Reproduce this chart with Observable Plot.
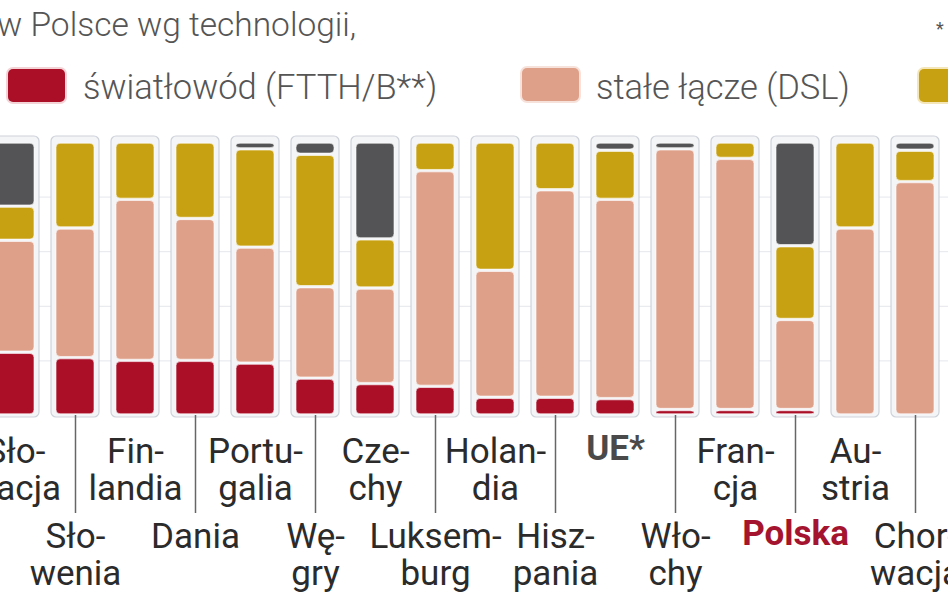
<!DOCTYPE html>
<html>
<head>
<meta charset="utf-8">
<script src="https://cdn.jsdelivr.net/npm/d3@7"></script>
<script src="https://cdn.jsdelivr.net/npm/@observablehq/plot@0.6"></script>
<style>
  html, body { margin: 0; padding: 0; background: #fff; width: 948px; height: 593px; overflow: hidden; font-family: Roboto, "Noto Sans", sans-serif; }
  #header { position: relative; height: 120px; }
  .title { position: absolute; left: -3px; top: 8px; font-size: 33.5px; line-height: 33.5px; color: #555; font-weight: 300; white-space: nowrap; }
  .sw { position: absolute; width: 57px; height: 33px; border-radius: 5px; }
  .lt { position: absolute; font-size: 34.5px; line-height: 35px; color: #555; font-weight: 300; white-space: nowrap; }
  .star { position: absolute; left: 936px; top: 18px; font-size: 18px; color: #555; }
  #chart { width: 948px; overflow: hidden; }
  #chart svg { margin-left: -18px; display: block; max-width: none !important; height: 473px !important; }
</style>
</head>
<body>
<div id="header">
  <div class="title">w Polsce wg technologii,</div>
  <div class="sw" style="left:8px;top:69px;background:#ab0e27;box-shadow:0 0 0 2px #f4d3d6;"></div>
  <div class="lt" style="left:83px;top:70px;">światłowód (FTTH/B**)</div>
  <div class="sw" style="left:522px;top:68px;background:#dfa08a;box-shadow:0 0 0 2px #f6e2da;"></div>
  <div class="lt" style="left:596px;top:70px;">stałe łącze (DSL)</div>
  <div class="sw" style="left:919px;top:69px;background:#c8a112;box-shadow:0 0 0 2px #f4e6b8;"></div>
  <div class="star">*</div>
</div>
<div id="chart"></div>
<script>
// ---- data (shares in %) ----
const countries = ["Słowacja","Słowenia","Finlandia","Dania","Portugalia","Węgry","Czechy","Luksemburg","Holandia","Hiszpania","UE*","Włochy","Francja","Polska","Austria","Chorwacja"];
const labels    = ["Sło-\nwacja","Sło-\nwenia","Fin-\nlandia","Dania","Portu-\ngalia","Wę-\ngry","Cze-\nchy","Luksem-\nburg","Holan-\ndia","Hisz-\npania","UE*","Wło-\nchy","Fran-\ncja","Polska","Au-\nstria","Chor-\nwacja"];
const ftth  = [23, 21, 20, 20, 19, 13.5, 11.5, 10.5, 6.5, 6.5, 6, 2, 2, 2, 0, 0];
const dsl   = [41, 47.5, 59, 52, 42.5, 33.5, 35, 79, 46.5, 76, 73, 95.5, 92, 33, 68.5, 85.5];
const kabel = [12.5, 31.5, 21, 28, 36, 48.5, 18, 10.5, 47, 17.5, 18, 0, 6, 27, 31.5, 11.5];
const inne  = [23.5, 0, 0, 0, 2.5, 4.5, 35.5, 0, 0, 0, 3, 2.5, 0, 38, 0, 3];
const seriesKeys = ["ftth", "dsl", "kabel", "inne"];
const seriesColors = ["#ab0e27", "#dfa08a", "#c8a112", "#545456"];
const gridValues = [20, 40, 60, 80];

const seriesArrays = [ftth, dsl, kabel, inne];
const rows = [];
countries.forEach((c, i) => {
  seriesKeys.forEach((k, j) => {
    const v = seriesArrays[j][i];
    if (v > 0) rows.push({country: c, type: k, value: v});
  });
});
const labelRows = countries.map((c, i) => ({country: c, label: labels[i], row: i % 2}));
const special = new Set(["Polska", "UE*"]);
const bottomRow = countries.filter((c, i) => i % 2 === 1);

const plot = Plot.plot({
  width: 966,
  height: 473,
  marginTop: 22,
  marginBottom: 178,
  marginLeft: 0,
  marginRight: 0,
  x: {domain: countries, paddingInner: 0.2, paddingOuter: 0.1, axis: null},
  y: {domain: [0, 100], axis: null},
  color: {domain: seriesKeys, range: seriesColors},
  style: {fontFamily: "Roboto, 'Noto Sans', sans-serif", background: "transparent"},
  marks: [
    Plot.ruleY(gridValues, {stroke: "#e4e7ec", strokeWidth: 1}),
    Plot.barY(countries, {x: d => d, y1: 0, y2: 100, fill: "#f4f5f7", stroke: "#cdd2da", strokeWidth: 1.2, rx: 5, insetTop: -6, insetBottom: -2}),
    Plot.barY(rows, Plot.stackY({x: "country", y: "value", fill: "type", order: seriesKeys, insetLeft: 5, insetRight: 5, insetTop: 1.2, insetBottom: 1.2, rx: 4, stroke: "#ffffff", strokeOpacity: 0.6, strokeWidth: 1})),
    Plot.axisX({ticks: bottomRow, tickSize: 98, tickFormat: () => "", label: null, stroke: "#666", strokeWidth: 1.5}),
    Plot.text(labelRows.filter(d => d.row === 0 && !special.has(d.country)), {x: "country", text: "label", frameAnchor: "bottom", lineAnchor: "top", dy: 20, fontSize: 35, lineHeight: 1.086, fill: "#2b2b2b"}),
    Plot.text(labelRows.filter(d => d.row === 1 && !special.has(d.country)), {x: "country", text: "label", frameAnchor: "bottom", lineAnchor: "top", dy: 105, fontSize: 35, lineHeight: 1.086, fill: "#2b2b2b"}),
    Plot.text(labelRows.filter(d => d.country === "UE*"), {x: "country", text: "label", frameAnchor: "bottom", lineAnchor: "top", dy: 20, fontSize: 35, fontWeight: "bold", fill: "#4a4a4a"}),
    Plot.text(labelRows.filter(d => d.country === "Polska"), {x: "country", text: "label", frameAnchor: "bottom", lineAnchor: "top", dy: 105, fontSize: 35, fontWeight: "bold", fill: "#a5142f"})
  ]
});
document.getElementById("chart").appendChild(plot);
</script>
</body>
</html>
